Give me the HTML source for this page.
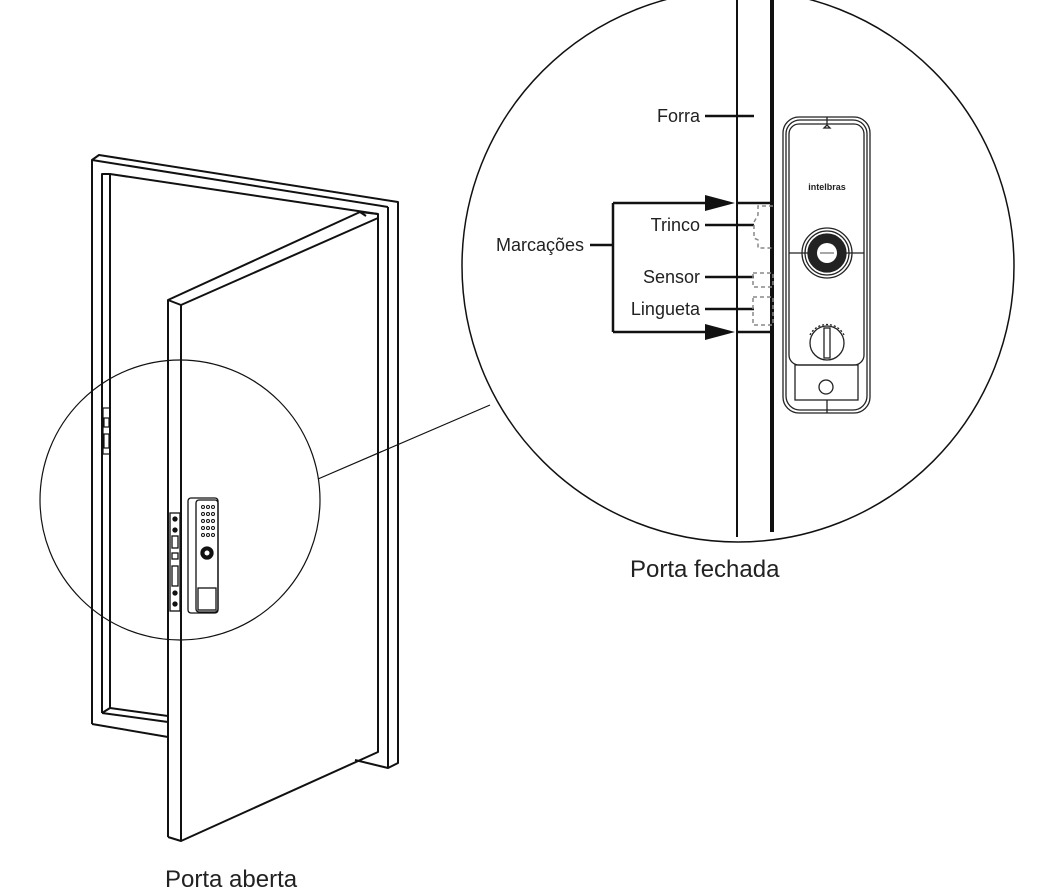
<!DOCTYPE html>
<html><head><meta charset="utf-8"><style>
html,body{margin:0;padding:0;background:#fff;}
svg{display:block;}
text{font-family:"Liberation Sans",sans-serif;fill:#222;}
</style></head><body>
<svg width="1053" height="889" viewBox="0 0 1053 889" xmlns="http://www.w3.org/2000/svg">
<g fill="none" stroke="#111" stroke-width="2" stroke-linejoin="round">
<path d="M92,724 L92,160 L99,155 L398,202 L398,763 L388,768 L355,760"/>
<line x1="92" y1="160" x2="388" y2="207"/>
<line x1="388" y1="207" x2="388" y2="768"/>
<path d="M102,713 L102,174 L110,174 L378,214"/>
<line x1="110" y1="174" x2="110" y2="708"/>
<path d="M102,713 L110,708 L168,716"/>
<line x1="102" y1="713" x2="168" y2="722"/>
<line x1="92" y1="724" x2="168" y2="737"/>
<path d="M168,837 L168,300 L360,212 L378,214 L378,752 L181,841 L168,837"/>
<line x1="168" y1="300" x2="181" y2="305"/>
<line x1="181" y1="305" x2="181" y2="841"/>
<line x1="181" y1="305" x2="378" y2="218"/>
<line x1="360" y1="212" x2="366" y2="216"/>
</g>
<g fill="none" stroke="#111" stroke-width="1.2">
<rect x="103" y="408" width="7" height="46"/>
<rect x="104" y="418" width="5" height="9"/>
<rect x="104" y="434" width="5" height="14"/>
</g>
<g fill="none" stroke="#111" stroke-width="1.3">
<rect x="170" y="513" width="10" height="98"/>
<circle cx="175" cy="519" r="2" fill="#111"/>
<circle cx="175" cy="530" r="2" fill="#111"/>
<rect x="172" y="536" width="6" height="12"/>
<rect x="172" y="553" width="6" height="6"/>
<rect x="172" y="566" width="6" height="20"/>
<circle cx="175" cy="593" r="2" fill="#111"/>
<circle cx="175" cy="604" r="2" fill="#111"/>
<rect x="188" y="498" width="30" height="115" rx="3"/>
<rect x="196" y="500" width="22" height="112" rx="3"/>
<rect x="198" y="588" width="18" height="22"/>
<g fill="none" stroke-width="1">
<circle cx="203" cy="507" r="1.5"/><circle cx="208" cy="507" r="1.5"/><circle cx="213" cy="507" r="1.5"/>
<circle cx="203" cy="514" r="1.5"/><circle cx="208" cy="514" r="1.5"/><circle cx="213" cy="514" r="1.5"/>
<circle cx="203" cy="521" r="1.5"/><circle cx="208" cy="521" r="1.5"/><circle cx="213" cy="521" r="1.5"/>
<circle cx="203" cy="528" r="1.5"/><circle cx="208" cy="528" r="1.5"/><circle cx="213" cy="528" r="1.5"/>
<circle cx="203" cy="535" r="1.5"/><circle cx="208" cy="535" r="1.5"/><circle cx="213" cy="535" r="1.5"/>
</g>
<circle cx="207" cy="553" r="6" fill="#111"/>
<circle cx="207" cy="553" r="2.5" fill="#fff" stroke="none"/>
</g>
<circle cx="180" cy="500" r="140" fill="none" stroke="#111" stroke-width="1.2"/>
<line x1="318" y1="479" x2="490" y2="405" stroke="#111" stroke-width="1.2"/>
<circle cx="738" cy="266" r="276" fill="none" stroke="#111" stroke-width="1.5"/>
<line x1="737" y1="0" x2="737" y2="537" stroke="#111" stroke-width="2"/>
<line x1="772" y1="0" x2="772" y2="532" stroke="#111" stroke-width="4"/>
<g stroke="#111" stroke-width="2.5" fill="none">
<line x1="705" y1="116" x2="754" y2="116"/>
<line x1="705" y1="225" x2="754" y2="225"/>
<line x1="705" y1="277" x2="754" y2="277"/>
<line x1="705" y1="309" x2="754" y2="309"/>
<path d="M590,245 L613,245 M613,203 L613,332 M613,203 L710,203 M613,332 L710,332"/>
<line x1="738" y1="203" x2="772" y2="203"/>
<line x1="738" y1="332" x2="772" y2="332"/>
</g>
<polygon points="705,195 735,203 705,211" fill="#111"/>
<polygon points="705,324 735,332 705,340" fill="#111"/>
<g stroke="#888" stroke-width="1.5" fill="none" stroke-dasharray="4,3">
<path d="M773,206 L758,206 L758,215 L754,222 L754,238 L758,240 L758,248 L773,248"/>
<rect x="753" y="273" width="20" height="14"/>
<rect x="753" y="297" width="20" height="28"/>
</g>
<g font-size="18">
<text x="700" y="122" text-anchor="end">Forra</text>
<text x="700" y="231" text-anchor="end">Trinco</text>
<text x="700" y="283" text-anchor="end">Sensor</text>
<text x="700" y="315" text-anchor="end">Lingueta</text>
<text x="584" y="251" text-anchor="end">Marcações</text>
</g>
<g fill="none" stroke="#222" stroke-width="1.3">
<rect x="783" y="117" width="87" height="296" rx="16"/>
<rect x="786" y="120" width="81" height="290" rx="14"/>
<rect x="789" y="124" width="75" height="241" rx="10"/>
<line x1="827" y1="117" x2="827" y2="124"/>
<line x1="827" y1="400" x2="827" y2="413"/>
<rect x="795" y="365" width="63" height="35"/>
<line x1="789" y1="253" x2="864" y2="253"/>
<circle cx="827" cy="253" r="25"/>
<circle cx="827" cy="253" r="22"/>
<circle cx="827" cy="253" r="19" fill="#222"/>
<circle cx="827" cy="343" r="17"/>
<rect x="824" y="328" width="6" height="30"/>
<path d="M810,335 A19,19 0 0 1 844,335" stroke-dasharray="2,2"/>
<circle cx="826" cy="387" r="7"/>
<path d="M824,128 L827,125 L830,128 Z"/>
</g>
<circle cx="827" cy="253" r="10" fill="#fff"/>
<line x1="820" y1="253" x2="834" y2="253" stroke="#222" stroke-width="0.8"/>
<text x="827" y="190" font-size="9" font-weight="bold" text-anchor="middle">intelbras</text>
<text x="630" y="577" font-size="24">Porta fechada</text>
<text x="165" y="887" font-size="24">Porta aberta</text>
</svg>
</body></html>
